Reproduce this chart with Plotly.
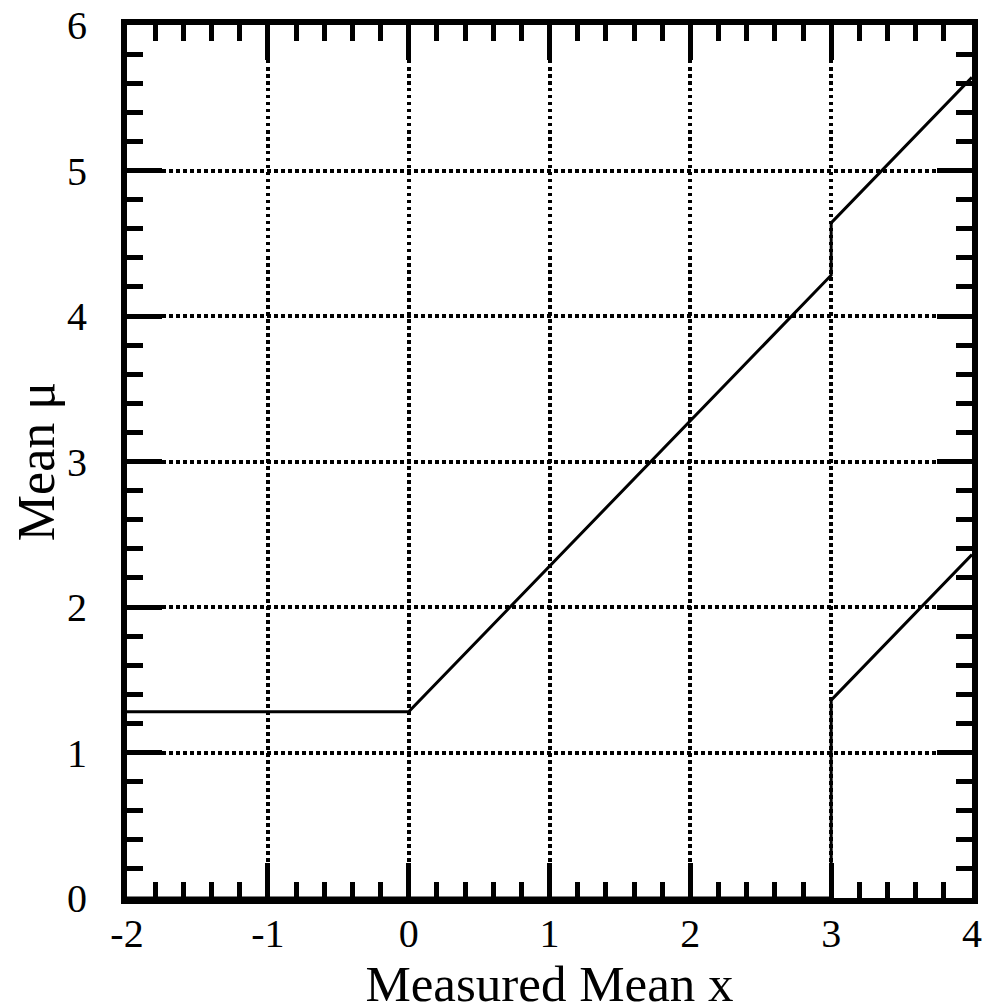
import plotly.graph_objects as go

# Confidence belt (flip-flopping), 90% C.L.
x_upper = [-2, 0, 3, 3, 4]
mu_upper = [1.28, 1.28, 4.28, 4.64, 5.64]
x_lower = [-2, 3, 3, 4]
mu_lower = [0, 0, 1.36, 2.36]

x_ticks = [-2, -1, 0, 1, 2, 3, 4]
y_ticks = [0, 1, 2, 3, 4, 5, 6]

FONT = "Liberation Serif"

fig = go.Figure()
for xs, ys in [(x_upper, mu_upper), (x_lower, mu_lower)]:
    fig.add_trace(go.Scatter(x=xs, y=ys, mode="lines",
                             line=dict(color="black", width=3),
                             showlegend=False, hoverinfo="skip"))

axis_common = dict(
    showline=True, linecolor="black", linewidth=6, mirror="allticks",
    ticks="inside", ticklen=35, tickwidth=5, tickcolor="black",
    showgrid=True, gridcolor="black", gridwidth=3.5, griddash="dot",
    zeroline=False, automargin=False, ticklabeloverflow="allow",
    tickfont=dict(family=FONT, size=40, color="black"),
    minor=dict(ticks="inside", ticklen=16, tickwidth=5, tickcolor="black",
               dtick=0.2, showgrid=False),
)

fig.update_xaxes(range=[-2, 4], tickvals=x_ticks, ticktext=[str(v) for v in x_ticks],
                 title=dict(text="Measured Mean x", font=dict(family=FONT, size=51, color="black"),
                            standoff=5),
                 ticklabelstandoff=-5,
                 **axis_common)
fig.update_yaxes(range=[0, 6], tickvals=y_ticks, ticktext=[str(v) for v in y_ticks],
                 title=dict(text="Mean μ", font=dict(family=FONT, size=52, color="black"),
                            standoff=1),
                 ticklabelstandoff=26,
                 **axis_common)

# the page body adds an 8px offset, so margins are set relative to it
fig.update_layout(
    width=995, height=1004,
    margin=dict(l=119, r=31, t=17, b=114),
    plot_bgcolor="white", paper_bgcolor="white",
)

fig.write_html("out.html")
